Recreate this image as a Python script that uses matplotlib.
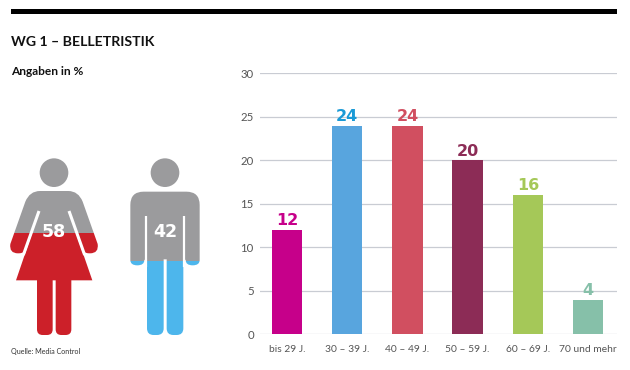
import matplotlib
matplotlib.use("Agg")
import matplotlib.pyplot as plt
from matplotlib.patches import Circle, FancyBboxPatch, PathPatch, Polygon, Rectangle
from matplotlib.path import Path

plt.rcParams['font.family'] = ['Lato', 'DejaVu Sans']

age_groups = ["bis 29 J.", "30 – 39 J.", "40 – 49 J.", "50 – 59 J.", "60 – 69 J.", "70 und mehr"]
age_values = [12, 24, 24, 20, 16, 4]
bar_colors = ["#c6008a", "#58a5de", "#d14f60", "#8c2c56", "#a5c858", "#86c0a9"]
label_colors = ["#c6008a", "#1a9ad6", "#d14f60", "#8c2c56", "#a5c858", "#86c0a9"]
y_ticks = [0, 5, 10, 15, 20, 25, 30]
women_share = 58
men_share = 42

GREY = "#9b9b9d"
RED = "#cc2029"
BLUE = "#4db6ec"
TOP = 55
BOTTOM = 585

fig = plt.figure(figsize=(6.3, 3.7), dpi=100)
fig.patch.set_facecolor("white")

# bar chart, placed in pixels
ax = fig.add_axes([260 / 630, (370 - 334.3) / 370, 357 / 630, 261 / 370])
ax.bar(range(len(age_values)), age_values, width=0.505, color=bar_colors, zorder=3)
ax.set_xlim(-0.449, 5.48)
ax.set_ylim(0, 30)
ax.set_yticks(y_ticks)
ax.set_xticks(range(len(age_groups)))
ax.set_xticklabels(age_groups)
ax.tick_params(axis="both", length=0, labelcolor="#555555")
ax.tick_params(axis="y", labelsize=8.2, pad=4.5)
ax.tick_params(axis="x", labelsize=7.4, pad=7.5)
ax.grid(axis="y", color="#c9ccd3", linewidth=0.9, zorder=0)
ax.set_axisbelow(True)
for spine in ax.spines.values():
    spine.set_visible(False)

for i, v in enumerate(age_values):
    ax.annotate(str(v), (i, v), xytext=(0, 3.4), textcoords="offset points",
                ha="center", va="baseline", fontsize=11.5, fontweight="bold",
                family="DejaVu Sans", color=label_colors[i])

# pictograms: same coordinates as a 3x crop of the region
pict = fig.add_axes([0, (370 - 365) / 370, 220 / 630, 225 / 370])
pict.set_xlim(0, 660)
pict.set_ylim(675, 0)
pict.axis("off")


def rounded_leg(x0, x1, y0, y1, r):
    return FancyBboxPatch((x0 + r, y0 + r), x1 - x0 - 2 * r, y1 - y0 - 2 * r,
                          boxstyle="round,pad=%d,rounding_size=%d" % (r, r))


def woman_shapes():
    verts = [(120, 153), (205, 153), (235, 153), (248, 185), (293, 312), (297, 340), (270, 340),
             (255, 340), (250, 335), (210, 225), (114, 225), (74, 335), (69, 340), (54, 340),
             (27, 340), (31, 312), (76, 185), (89, 153), (120, 153)]
    codes = [Path.MOVETO, Path.LINETO, Path.CURVE3, Path.CURVE3, Path.LINETO, Path.CURVE3, Path.CURVE3,
             Path.CURVE3, Path.CURVE3, Path.LINETO, Path.LINETO, Path.LINETO, Path.CURVE3, Path.CURVE3,
             Path.CURVE3, Path.CURVE3, Path.LINETO, Path.CURVE3, Path.CURVE3]
    return [PathPatch(Path(verts, codes)),
            Circle((162, 98), 43),
            Polygon([(119, 213), (205, 213), (277, 421), (48, 421)]),
            rounded_leg(111, 158, 400, 585, 17),
            rounded_leg(167, 214, 400, 585, 17)]


def man_shapes():
    verts = [(431, 155), (559, 155), (599, 155), (599, 195), (599, 360), (599, 376), (578, 376),
             (557, 376), (557, 360), (553, 358), (437, 358), (433, 360), (433, 376), (412, 376),
             (391, 376), (391, 360), (391, 195), (391, 155), (431, 155)]
    codes = [Path.MOVETO, Path.LINETO, Path.CURVE3, Path.CURVE3, Path.LINETO, Path.CURVE3, Path.CURVE3,
             Path.CURVE3, Path.CURVE3, Path.LINETO, Path.LINETO, Path.LINETO, Path.CURVE3, Path.CURVE3,
             Path.CURVE3, Path.CURVE3, Path.LINETO, Path.CURVE3, Path.CURVE3]
    return [PathPatch(Path(verts, codes)),
            Circle((495, 98), 43),
            rounded_leg(441, 491, 340, 585, 20),
            rounded_leg(500, 550, 340, 585, 20)]


def draw_person(make_shapes, share, fill_color):
    level = BOTTOM - share / 100 * (BOTTOM - TOP)
    for color, y0, h in [(GREY, 0, level), (fill_color, level, 675 - level)]:
        clip = Rectangle((0, y0), 660, h, transform=pict.transData)
        for shape in make_shapes():
            shape.set_facecolor(color)
            shape.set_edgecolor("none")
            pict.add_patch(shape)
            shape.set_clip_path(clip)


draw_person(woman_shapes, women_share, RED)
draw_person(man_shapes, men_share, BLUE)

# white gaps between arms and body
pict.plot([117, 70], [213, 345], color="white", lw=2.2, solid_capstyle="butt")
pict.plot([207, 254], [213, 345], color="white", lw=2.2, solid_capstyle="butt")
pict.plot([437, 437], [228, 380], color="white", lw=1.6, solid_capstyle="butt")
pict.plot([553, 553], [228, 380], color="white", lw=1.6, solid_capstyle="butt")

pict.text(162, 277, str(women_share), color="white", fontsize=12.5, fontweight="bold",
          family="DejaVu Sans", ha="center", va="center")
pict.text(495, 277, str(men_share), color="white", fontsize=12.5, fontweight="bold",
          family="DejaVu Sans", ha="center", va="center")

# rule and headings
fig.add_artist(Rectangle((11 / 630, (370 - 13.7) / 370), 606 / 630, 4.4 / 370,
                         transform=fig.transFigure, facecolor="black", edgecolor="none"))
fig.text(11 / 630, (370 - 46.5) / 370, "WG 1 – BELLETRISTIK", fontsize=10.2, fontweight="bold",
         color="#111111", va="baseline")
fig.text(11 / 630, (370 - 75) / 370, "Angaben in %", fontsize=8.6, fontweight="bold",
         color="#111111", va="baseline")
fig.text(11 / 630, (370 - 354) / 370, "Quelle: Media Control", fontsize=5.1,
         color="#333333", va="baseline")

fig.savefig("out.png", dpi=100)
plt.close(fig)
